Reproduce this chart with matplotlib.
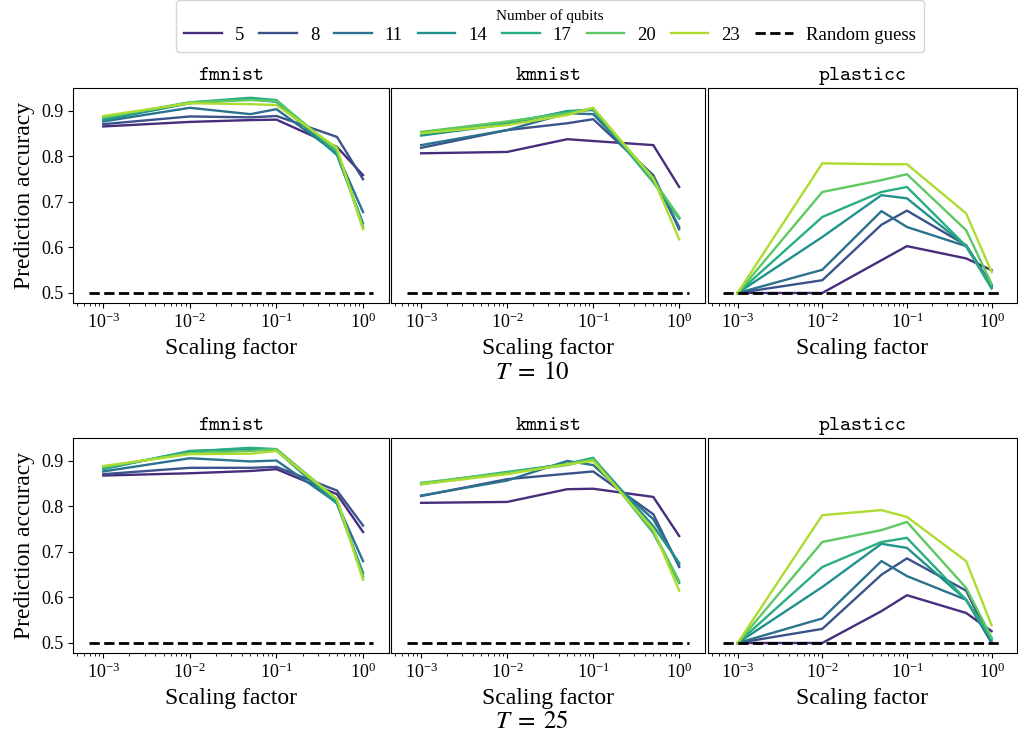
import numpy as np
import matplotlib
matplotlib.use("Agg")
import matplotlib.pyplot as plt

plt.rcParams['font.family'] = ['Liberation Serif', 'DejaVu Serif']
plt.rcParams['mathtext.fontset'] = 'stix'

scales = [1e-3, 1e-2, 5e-2, 1e-1, 5e-1, 1.0]
qubits = [5, 8, 11, 14, 17, 20, 23]
datasets = ['fmnist', 'kmnist', 'plasticc']

# T = 10
fmnist_T10 = [
    [0.866, 0.876, 0.880, 0.881, 0.821, 0.759],
    [0.871, 0.888, 0.886, 0.889, 0.843, 0.750],
    [0.877, 0.907, 0.893, 0.904, 0.807, 0.678],
    [0.880, 0.917, 0.926, 0.920, 0.803, 0.653],
    [0.884, 0.919, 0.929, 0.924, 0.810, 0.645],
    [0.886, 0.919, 0.924, 0.922, 0.814, 0.642],
    [0.889, 0.917, 0.915, 0.913, 0.819, 0.640],
]
kmnist_T10 = [
    [0.807, 0.810, 0.838, 0.834, 0.825, 0.733],
    [0.819, 0.858, 0.873, 0.882, 0.759, 0.640],
    [0.825, 0.858, 0.895, 0.893, 0.755, 0.645],
    [0.846, 0.871, 0.900, 0.902, 0.744, 0.664],
    [0.851, 0.875, 0.898, 0.904, 0.744, 0.664],
    [0.854, 0.877, 0.895, 0.906, 0.748, 0.667],
    [0.851, 0.869, 0.891, 0.907, 0.752, 0.618],
]
plasticc_T10 = [
    [0.500, 0.500, 0.572, 0.603, 0.576, 0.550],
    [0.500, 0.528, 0.650, 0.681, 0.605, 0.517],
    [0.500, 0.551, 0.680, 0.645, 0.603, 0.513],
    [0.500, 0.623, 0.715, 0.708, 0.603, 0.510],
    [0.500, 0.667, 0.722, 0.733, 0.603, 0.513],
    [0.500, 0.722, 0.748, 0.761, 0.638, 0.520],
    [0.500, 0.785, 0.783, 0.783, 0.675, 0.546],
]

# T = 25
fmnist_T25 = [
    [0.868, 0.873, 0.878, 0.882, 0.827, 0.744],
    [0.871, 0.885, 0.885, 0.887, 0.835, 0.758],
    [0.877, 0.906, 0.899, 0.901, 0.808, 0.680],
    [0.882, 0.922, 0.926, 0.923, 0.806, 0.654],
    [0.884, 0.921, 0.929, 0.926, 0.812, 0.647],
    [0.887, 0.917, 0.922, 0.926, 0.816, 0.642],
    [0.889, 0.915, 0.916, 0.922, 0.816, 0.639],
]
kmnist_T25 = [
    [0.808, 0.810, 0.838, 0.839, 0.821, 0.735],
    [0.823, 0.860, 0.872, 0.877, 0.783, 0.667],
    [0.824, 0.857, 0.900, 0.891, 0.772, 0.672],
    [0.849, 0.874, 0.894, 0.906, 0.757, 0.676],
    [0.850, 0.876, 0.893, 0.907, 0.742, 0.632],
    [0.852, 0.874, 0.891, 0.904, 0.746, 0.636],
    [0.849, 0.871, 0.893, 0.900, 0.750, 0.615],
]
plasticc_T25 = [
    [0.500, 0.500, 0.570, 0.605, 0.566, 0.526],
    [0.500, 0.531, 0.650, 0.686, 0.615, 0.502],
    [0.500, 0.554, 0.680, 0.647, 0.595, 0.500],
    [0.500, 0.623, 0.718, 0.709, 0.595, 0.507],
    [0.500, 0.667, 0.722, 0.731, 0.595, 0.510],
    [0.500, 0.722, 0.748, 0.766, 0.621, 0.512],
    [0.500, 0.781, 0.792, 0.777, 0.680, 0.539],
]

rows = [
    (10, [fmnist_T10, kmnist_T10, plasticc_T10]),
    (25, [fmnist_T25, kmnist_T25, plasticc_T25]),
]

colors = plt.get_cmap('viridis')(np.linspace(0, 1, len(qubits) + 2)[1:-1])

fig = plt.figure(figsize=(10.18, 7.41), dpi=100)

W, H = 1018.0, 741.0
lefts = [73, 391, 708]
rights = [389, 705, 1017]
row_px = [(88, 303), (438, 653)]
label_y = [373, 722]

handles = None
for r, (T, panels) in enumerate(rows):
    top, bot = row_px[r]
    for c in range(3):
        ax = fig.add_axes([lefts[c] / W, 1 - bot / H,
                           (rights[c] - lefts[c]) / W, (bot - top) / H])
        data = panels[c]
        lines = []
        for i, q in enumerate(qubits):
            ln, = ax.plot(scales, data[i], color=colors[i], lw=1.7, label=str(q))
            lines.append(ln)
        rg = ax.axhline(0.5, xmin=0.05, xmax=0.95, color='black', ls='--',
                        lw=2, label='Random guess')
        lines.append(rg)
        if handles is None:
            handles = lines
        ax.set_xscale('log')
        ax.set_xlim(10 ** -3.35, 10 ** 0.30)
        ax.set_ylim(0.478, 0.9505)
        ax.set_yticks([0.5, 0.6, 0.7, 0.8, 0.9])
        ax.set_xticks([1e-3, 1e-2, 1e-1, 1e0])
        ax.tick_params(labelsize=13)
        ax.set_title(r'$\mathtt{' + datasets[c] + '}$', fontsize=15,
                     math_fontfamily='cm', pad=6)
        ax.set_xlabel('Scaling factor', fontsize=17)
        if c == 0:
            ax.set_ylabel('Prediction accuracy', fontsize=17)
        else:
            ax.tick_params(axis='y', labelleft=False, length=0)
    fig.text(532 / W, 1 - label_y[r] / H, r'$T\;=\;%d$' % T, fontsize=18,
             ha='center', va='center')

fig.legend(handles=handles, loc='upper center', ncol=8,
           bbox_to_anchor=(550 / W, 1.012), fontsize=13.5,
           title='Number of qubits', title_fontsize=11,
           handlelength=2.0, columnspacing=0.8, borderpad=0.45,
           labelspacing=0.2, handletextpad=0.7)

fig.savefig('out.png', dpi=100)
